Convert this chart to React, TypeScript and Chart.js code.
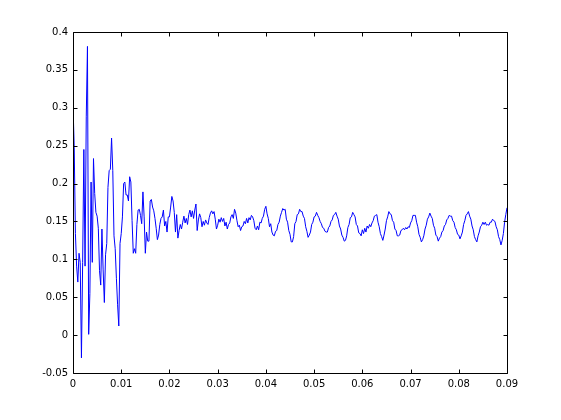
import React, { useEffect, useRef } from "react";
import { Chart, registerables } from "chart.js";

Chart.register(...registerables);

// Sampling interval of the signal (seconds)
const sampleStep = 0.00025;

// Signal values, one array per 0.01 s
const seg00 = [0.304, 0.248, 0.134, 0.091, 0.070, 0.108, 0.096, -0.030, 0.096, 0.245,
  0.091, 0.288, 0.381, 0.001, 0.055, 0.202, 0.096, 0.233, 0.187, 0.162,
  0.157, 0.141, 0.085, 0.066, 0.140, 0.086, 0.043, 0.106, 0.121, 0.195,
  0.217, 0.219, 0.260, 0.217, 0.131, 0.114, 0.075, 0.040, 0.012, 0.121];
const seg01 = [0.134, 0.156, 0.200, 0.202, 0.185, 0.185, 0.177, 0.209, 0.202, 0.151,
  0.108, 0.114, 0.108, 0.146, 0.165, 0.166, 0.158, 0.147, 0.189, 0.156,
  0.108, 0.136, 0.124, 0.124, 0.177, 0.179, 0.169, 0.164, 0.154, 0.141,
  0.126, 0.132, 0.146, 0.154, 0.156, 0.165, 0.144, 0.150, 0.136, 0.156];
const seg02 = [0.156, 0.169, 0.183, 0.177, 0.162, 0.136, 0.159, 0.128, 0.138, 0.146,
  0.140, 0.149, 0.157, 0.148, 0.154, 0.146, 0.159, 0.165, 0.156, 0.164,
  0.154, 0.165, 0.173, 0.138, 0.152, 0.160, 0.155, 0.143, 0.150, 0.145,
  0.152, 0.148, 0.146, 0.155, 0.161, 0.164, 0.160, 0.163, 0.153, 0.140];
const seg03 = [0.145, 0.153, 0.149, 0.155, 0.150, 0.154, 0.144, 0.149, 0.140, 0.146,
  0.148, 0.156, 0.159, 0.154, 0.166, 0.161, 0.151, 0.143, 0.145, 0.138,
  0.143, 0.144, 0.150, 0.147, 0.154, 0.148, 0.155, 0.152, 0.158, 0.156,
  0.151, 0.141, 0.139, 0.144, 0.139, 0.149, 0.148, 0.154, 0.157, 0.166];
const seg04 = [0.170, 0.160, 0.154, 0.143, 0.147, 0.136, 0.132, 0.131, 0.137, 0.138,
  0.146, 0.149, 0.157, 0.162, 0.167, 0.165, 0.166, 0.153, 0.149, 0.138,
  0.133, 0.123, 0.123, 0.130, 0.147, 0.150, 0.159, 0.160, 0.166, 0.163,
  0.163, 0.157, 0.154, 0.143, 0.137, 0.129, 0.132, 0.136, 0.146, 0.149];
const seg05 = [0.156, 0.157, 0.162, 0.158, 0.155, 0.150, 0.147, 0.142, 0.141, 0.137,
  0.136, 0.136, 0.142, 0.144, 0.150, 0.152, 0.158, 0.159, 0.162, 0.157,
  0.153, 0.144, 0.140, 0.132, 0.129, 0.124, 0.125, 0.131, 0.142, 0.146,
  0.155, 0.156, 0.162, 0.159, 0.156, 0.146, 0.144, 0.135, 0.134, 0.131];
const seg06 = [0.139, 0.134, 0.141, 0.136, 0.144, 0.141, 0.146, 0.143, 0.148, 0.151,
  0.157, 0.158, 0.159, 0.149, 0.143, 0.134, 0.130, 0.125, 0.132, 0.140,
  0.151, 0.156, 0.163, 0.160, 0.159, 0.151, 0.149, 0.140, 0.138, 0.131,
  0.131, 0.132, 0.138, 0.139, 0.141, 0.139, 0.142, 0.140, 0.143, 0.142];
const seg07 = [0.148, 0.151, 0.158, 0.158, 0.158, 0.149, 0.143, 0.133, 0.129, 0.123,
  0.126, 0.131, 0.140, 0.145, 0.153, 0.156, 0.161, 0.157, 0.154, 0.145,
  0.141, 0.132, 0.130, 0.124, 0.128, 0.130, 0.136, 0.138, 0.144, 0.146,
  0.152, 0.154, 0.158, 0.157, 0.157, 0.151, 0.149, 0.142, 0.139, 0.133];
const seg08 = [0.132, 0.127, 0.131, 0.136, 0.146, 0.151, 0.158, 0.160, 0.163, 0.157,
  0.153, 0.144, 0.139, 0.130, 0.126, 0.123, 0.131, 0.136, 0.143, 0.145,
  0.149, 0.146, 0.149, 0.145, 0.146, 0.145, 0.149, 0.149, 0.153, 0.151,
  0.150, 0.143, 0.139, 0.130, 0.126, 0.119, 0.125, 0.134, 0.149, 0.159,
  0.168];

const signal = [...seg00, ...seg01, ...seg02, ...seg03, ...seg04, ...seg05, ...seg06, ...seg07, ...seg08];

// Axis ticks
const xTickValues = [0, 0.01, 0.02, 0.03, 0.04, 0.05, 0.06, 0.07, 0.08, 0.09];
const yTickValues = [-0.05, 0, 0.05, 0.1, 0.15, 0.2, 0.25, 0.3, 0.35, 0.4];

const fmt = (v: number) => String(Number(Number(v).toFixed(4)));

const framePlugin = {
  id: "matlabFrame",
  afterDraw(chart: any) {
    const { ctx, chartArea: a, scales } = chart;
    const L = Math.round(a.left) + 0.5;
    const R = Math.round(a.right) + 0.5;
    const T = Math.round(a.top) + 0.5;
    const B = Math.round(a.bottom) + 0.5;
    const tl = 4;
    ctx.save();
    ctx.strokeStyle = "#000";
    ctx.lineWidth = 1;
    ctx.beginPath();
    ctx.rect(L, T, R - L, B - T);
    for (const t of scales.x.ticks) {
      const p = Math.round(scales.x.getPixelForValue(t.value)) + 0.5;
      ctx.moveTo(p, B);
      ctx.lineTo(p, B - tl);
      ctx.moveTo(p, T);
      ctx.lineTo(p, T + tl);
    }
    for (const t of scales.y.ticks) {
      const p = Math.round(scales.y.getPixelForValue(t.value)) + 0.5;
      ctx.moveTo(L, p);
      ctx.lineTo(L + tl, p);
      ctx.moveTo(R, p);
      ctx.lineTo(R - tl, p);
    }
    ctx.stroke();
    ctx.restore();
  },
};

export default function App() {
  const ref = useRef<HTMLCanvasElement | null>(null);

  useEffect(() => {
    if (!ref.current) return;
    const points = signal.map((v, i) => ({ x: i * sampleStep, y: v }));
    const tickFont = { family: "'DejaVu Sans', sans-serif", size: 10 };
    const chart = new Chart(ref.current, {
      type: "line",
      data: {
        datasets: [
          {
            data: points,
            borderColor: "rgb(0,0,255)",
            borderWidth: 1,
            pointRadius: 0,
            tension: 0,
            fill: false,
          },
        ],
      },
      options: {
        animation: false,
        responsive: false,
        devicePixelRatio: 1,
        events: [],
        layout: { padding: { left: 0, top: 32, right: 54, bottom: 0 } },
        plugins: { legend: { display: false }, title: { display: false }, tooltip: { enabled: false } },
        scales: {
          x: {
            type: "linear",
            min: 0,
            max: 0.09,
            grid: { display: false, drawTicks: false },
            border: { display: false },
            afterBuildTicks: (scale: any) => {
              scale.ticks = xTickValues.map((v) => ({ value: v }));
            },
            afterFit: (scale: any) => {
              scale.height = 47;
            },
            ticks: {
              color: "#000",
              font: tickFont,
              padding: 5,
              maxRotation: 0,
              autoSkip: false,
              callback: (v: any) => fmt(v),
            },
          },
          y: {
            type: "linear",
            min: -0.05,
            max: 0.4,
            grid: { display: false, drawTicks: false },
            border: { display: false },
            afterBuildTicks: (scale: any) => {
              scale.ticks = yTickValues.map((v) => ({ value: v }));
            },
            afterFit: (scale: any) => {
              scale.width = 73;
            },
            ticks: {
              color: "#000",
              font: tickFont,
              padding: 5,
              autoSkip: false,
              callback: (v: any) => fmt(v),
            },
          },
        },
      },
      plugins: [framePlugin],
    });
    return () => chart.destroy();
  }, []);

  return (
    <div style={{ position: "fixed", left: 0, top: 0, width: 561, height: 420, background: "#fff" }}>
      <canvas ref={ref} width={561} height={420} style={{ display: "block", width: 561, height: 420 }} />
    </div>
  );
}
